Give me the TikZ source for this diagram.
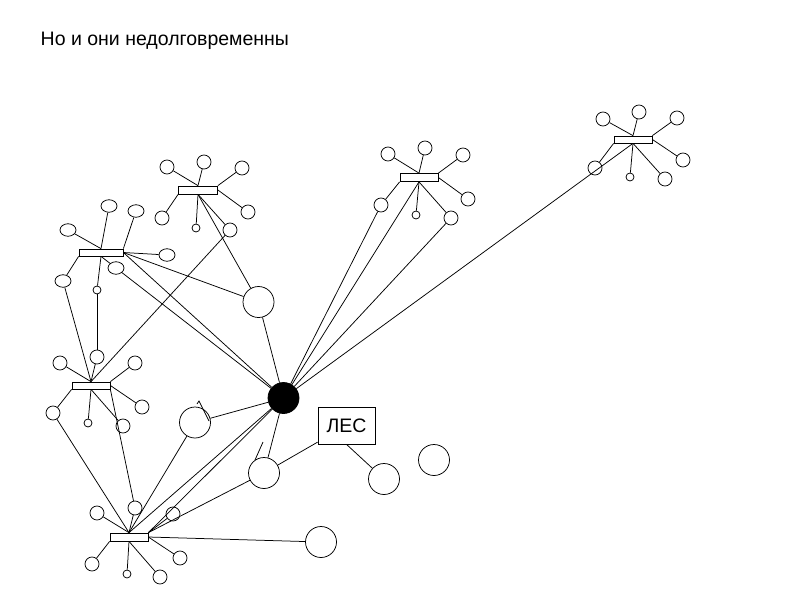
\documentclass[tikz,border=0pt]{standalone}
\usepackage{fontspec}
\setmainfont{Liberation Sans}
\usetikzlibrary{shapes.geometric}
\begin{document}
\begin{tikzpicture}[x=1pt,y=-1pt,line width=0.75pt,
  sat/.style={circle,draw,inner sep=0pt,minimum size=14pt},
  satsm/.style={circle,draw,inner sep=0pt,minimum size=8pt},
  satel/.style={ellipse,draw,inner sep=0pt,minimum width=16pt,minimum height=12.5pt},
  bigc/.style={circle,draw,inner sep=0pt,minimum size=31pt},
  hubc/.style={circle,draw,fill=black,inner sep=0pt,minimum size=31pt},
  barbox/.style={rectangle,draw,inner sep=0pt,minimum width=38pt,minimum height=7pt},
  lesbox/.style={rectangle,draw,inner sep=0pt,minimum width=57pt,minimum height=37pt,font=\fontsize{19.5}{22}\selectfont}]
\useasboundingbox (0,0) rectangle (800,600);
\node[anchor=base west,font=\fontsize{19.5}{22}\selectfont] (title) at (37,45) {Но и они недолговременны};
% cluster A
\node[barbox,minimum width=44pt] (barA) at (101,252.5) {};
\node[satel] (a1) at (68,230) {};
\node[satel] (a2) at (109,206) {};
\node[satel] (a3) at (136,211) {};
\node[satel] (a4) at (167,255) {};
\node[satel] (a5) at (63,281) {};
\node[satsm] (a6) at (97,290) {};
\node[satel] (a7) at (116,268) {};
\draw (barA.north) -- (a1); \draw (barA.north) -- (a2); \draw (barA.north east) -- (a3);
\draw (barA.east) -- (a4); \draw (barA.south west) -- (a5); \draw (barA.south) -- (a6); \draw (barA.south) -- (a7);
% cluster B
\node[barbox] (barB) at (91,385.5) {};
\node[sat] (b1) at (60,363) {};
\node[sat] (b2) at (97,357) {};
\node[sat] (b3) at (135,363) {};
\node[sat] (b4) at (142,407) {};
\node[sat] (b5) at (53,413) {};
\node[satsm] (b6) at (88,423) {};
\node[sat] (b7) at (123,426) {};
\draw (barB.north) -- (b1); \draw (barB.north) -- (b2); \draw (barB.north east) -- (b3);
\draw (barB.east) -- (b4); \draw (barB.south west) -- (b5); \draw (barB.south) -- (b6); \draw (barB.south) -- (b7);
% cluster C
\node[barbox,minimum height=8pt] (barC) at (129,537) {};
\node[sat] (c1) at (97,513) {};
\node[sat] (c2) at (135,508) {};
\node[sat] (c3) at (173,514) {};
\node[sat] (c4) at (180,558) {};
\node[sat] (c5) at (92,564) {};
\node[satsm] (c6) at (127,574) {};
\node[sat] (c7) at (160,577) {};
\draw (barC.north) -- (c1); \draw (barC.north) -- (c2); \draw (barC.north east) -- (c3);
\draw (barC.east) -- (c4); \draw (barC.south west) -- (c5); \draw (barC.south) -- (c6); \draw (barC.south) -- (c7);
% cluster D
\node[barbox,minimum width=39pt,minimum height=8pt] (barD) at (198,190) {};
\node[sat] (d1) at (167,167) {};
\node[sat] (d2) at (204,162) {};
\node[sat] (d3) at (242,168) {};
\node[sat] (d4) at (248,212) {};
\node[sat] (d5) at (162,218) {};
\node[satsm] (d6) at (196,228) {};
\node[sat] (d7) at (230,230) {};
\draw (barD.north) -- (d1); \draw (barD.north) -- (d2); \draw (barD.north east) -- (d3);
\draw (barD.east) -- (d4); \draw (barD.south west) -- (d5); \draw (barD.south) -- (d6); \draw (barD.south) -- (d7);
% cluster E
\node[barbox,minimum height=8pt] (barE) at (419,177.5) {};
\node[sat] (e1) at (388,154) {};
\node[sat] (e2) at (425,148) {};
\node[sat] (e3) at (463,155) {};
\node[sat] (e4) at (468,199) {};
\node[sat] (e5) at (381,205) {};
\node[satsm] (e6) at (416,215) {};
\node[sat] (e7) at (451,218) {};
\draw (barE.north) -- (e1); \draw (barE.north) -- (e2); \draw (barE.north east) -- (e3);
\draw (barE.east) -- (e4); \draw (barE.south west) -- (e5); \draw (barE.south) -- (e6); \draw (barE.south) -- (e7);
% cluster F
\node[barbox] (barF) at (633,139.5) {};
\node[sat] (f1) at (603,119) {};
\node[sat] (f2) at (639,112) {};
\node[sat] (f3) at (677,118) {};
\node[sat] (f4) at (683,160) {};
\node[sat] (f5) at (595,168) {};
\node[satsm] (f6) at (630,177) {};
\node[sat] (f7) at (665,179) {};
\draw (barF.north) -- (f1); \draw (barF.north) -- (f2); \draw (barF.north east) -- (f3);
\draw (barF.east) -- (f4); \draw (barF.south west) -- (f5); \draw (barF.south) -- (f6); \draw (barF.south) -- (f7);
% central and free circles
\node[hubc] (hub) at (283.5,398) {};
\node[bigc] (g1) at (258.5,302) {};
\node[bigc] (g2) at (195,422.5) {};
\node[bigc] (g3) at (264,473) {};
\node[bigc] (g4) at (321,542) {};
\node[bigc] (g5) at (384,479) {};
\node[bigc] (g6) at (434,460) {};
\node[lesbox] (les) at (346.5,425.5) {ЛЕС};
% cross connectors
\draw (barA.east) -- (g1);
\draw (barA.east) -- (hub);
\draw (a7) -- (hub);
\draw (a5) -- (barB.north);
\draw (a6) -- (b2);
\draw (d7) -- (barB.north);
\draw (barD.south) -- (g1);
\draw (g1) -- (hub);
\draw (b5) -- (barC.north);
\draw (barB.south east) -- (c2);
\draw (barC.north) -- (g2);
\draw (barC.north) -- (hub);
\draw (barC.north east) -- (hub);
\draw (barC.north east) -- (g3);
\draw (barC.east) -- (g4);
\draw (g2) -- (hub);
\draw (hub) -- (g3);
\draw (g3) -- (les);
\draw (les.south) -- (g5);
\draw (e5) -- (hub);
\draw (barE.south) -- (hub);
\draw (e7) -- (hub);
\draw (barF.south) -- (hub);
% stray pen marks
\coordinate (m1) at (263,442); \coordinate (m2) at (255,460);
\draw (m1) -- (m2);
\coordinate (m3) at (197,404); \coordinate (m4) at (199,401); \coordinate (m5) at (209,421);
\draw (m3) -- (m4) -- (m5);
\end{tikzpicture}
\end{document}
